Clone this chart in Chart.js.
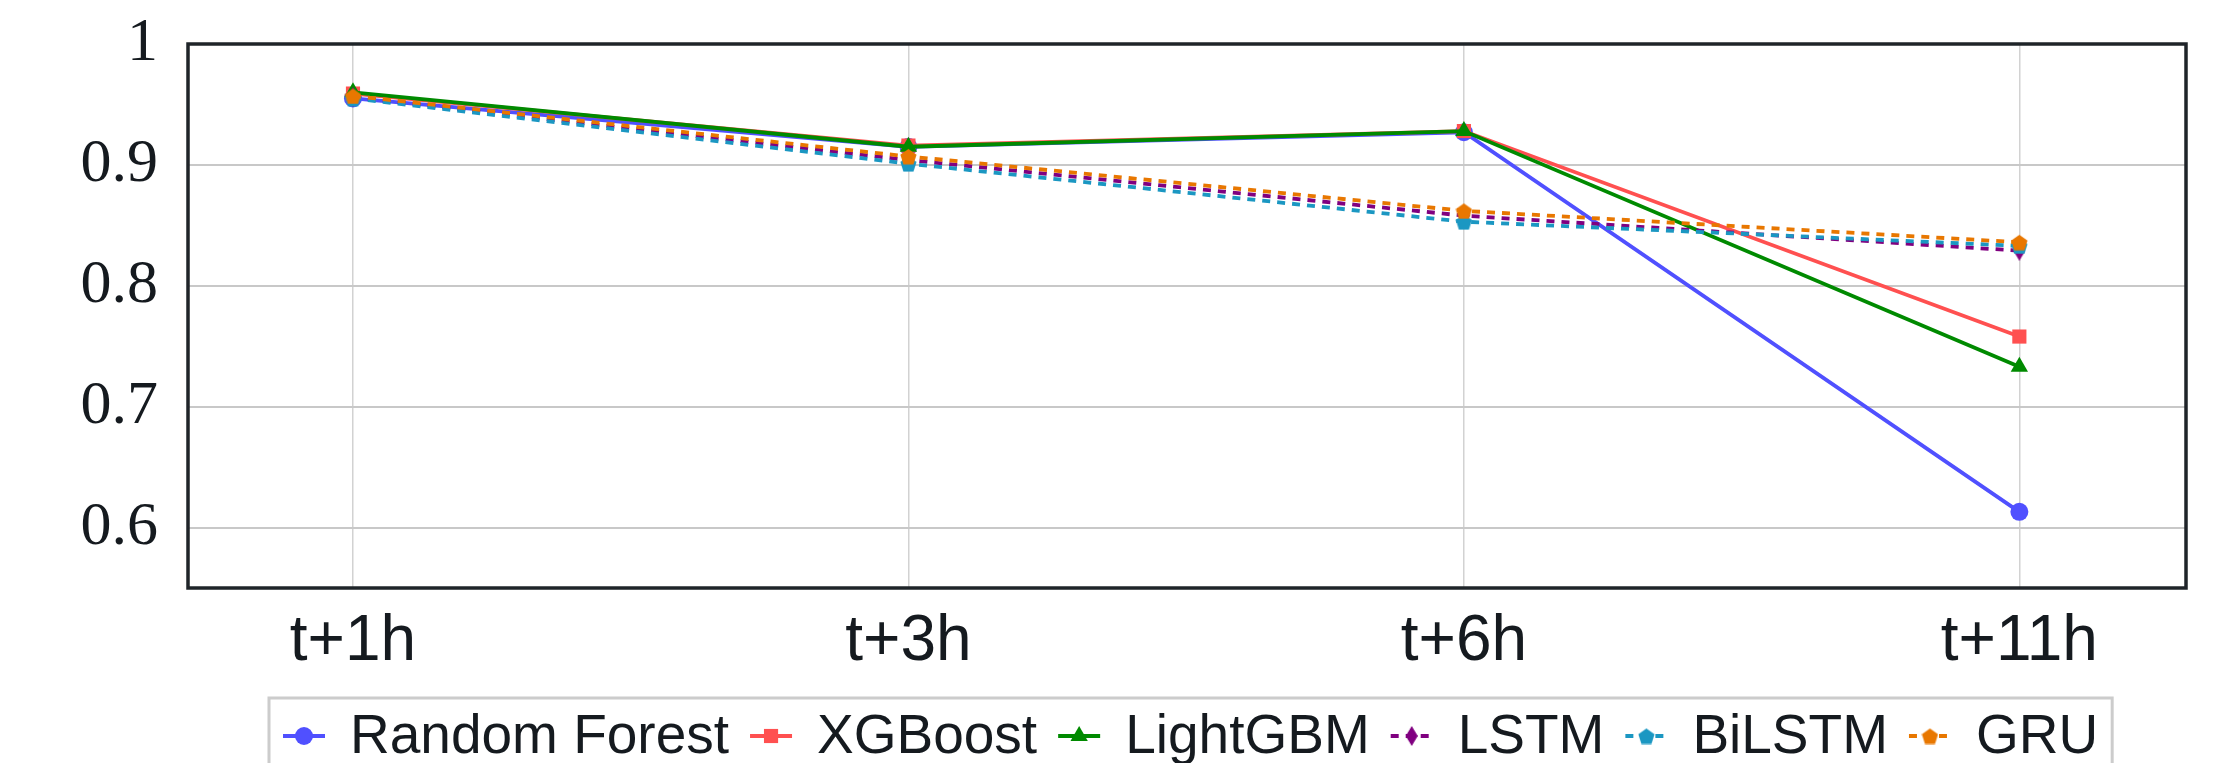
<!DOCTYPE html>
<html>
<head>
<meta charset="utf-8">
<script src="https://cdn.jsdelivr.net/npm/chart.js@4.4.1/dist/chart.umd.min.js"></script>
<style>
  html, body { margin: 0; padding: 0; background: #fff; }
  #wrap { width: 2217px; height: 763px; }
</style>
</head>
<body>
<div id="wrap"><canvas id="chart" width="2217" height="763"></canvas></div>
<script>
// Data
const horizons = ["t+1h", "t+3h", "t+6h", "t+11h"];
const yTicks = [0.6, 0.7, 0.8, 0.9, 1];
const models = ["Random Forest", "XGBoost", "LightGBM", "LSTM", "BiLSTM", "GRU"];
const randomForest = [0.955, 0.915, 0.927, 0.613];
const xgboost = [0.959, 0.916, 0.928, 0.758];
const lightgbm = [0.96, 0.915, 0.928, 0.733];
const lstm = [0.956, 0.904, 0.858, 0.829];
const bilstm = [0.955, 0.901, 0.853, 0.833];
const gru = [0.957, 0.907, 0.862, 0.836];

const TEXT = "#151a1f";

// custom markers (pentagon / narrow diamond)
function pentagon(color, size) {
  const c = document.createElement("canvas");
  c.width = size;
  c.height = size;
  const g = c.getContext("2d");
  g.fillStyle = color;
  g.beginPath();
  const r = size / 2;
  for (let k = 0; k < 5; k++) {
    const a = -Math.PI / 2 + (k * 2 * Math.PI) / 5;
    const px = r + r * Math.cos(a);
    const py = r + 1 + r * Math.sin(a);
    if (k === 0) g.moveTo(px, py);
    else g.lineTo(px, py);
  }
  g.closePath();
  g.fill();
  return c;
}

function diamond(color, w, h) {
  const c = document.createElement("canvas");
  c.width = w;
  c.height = h;
  const g = c.getContext("2d");
  g.fillStyle = color;
  g.beginPath();
  g.moveTo(w / 2, 0);
  g.lineTo(w, h / 2);
  g.lineTo(w / 2, h);
  g.lineTo(0, h / 2);
  g.closePath();
  g.fill();
  return c;
}

const styles = [
  { color: "#5050ff", point: "circle", radius: 9, dash: [] },
  { color: "#ff5050", point: "rect", radius: 10, dash: [] },
  { color: "#008a00", point: "triangle", radius: 10, dash: [] },
  { color: "#800080", point: diamond("#800080", 12, 20), radius: 8, dash: [8, 7] },
  { color: "#1b97c2", point: pentagon("#1b97c2", 17), radius: 8, dash: [8, 7] },
  { color: "#e87700", point: pentagon("#e87700", 17), radius: 8, dash: [8, 7] },
];

const seriesValues = [randomForest, xgboost, lightgbm, lstm, bilstm, gru];

const datasets = seriesValues.map((vals, i) => ({
  label: models[i],
  data: vals.map((v, j) => ({ x: j, y: v })),
  borderColor: styles[i].color,
  backgroundColor: styles[i].color,
  pointBackgroundColor: styles[i].color,
  pointBorderColor: styles[i].color,
  pointBorderWidth: 0,
  pointStyle: styles[i].point,
  pointRadius: styles[i].radius,
  borderWidth: 3.8,
  borderDash: styles[i].dash,
  tension: 0,
  fill: false,
  order: -i, // later series on top
}));

// frame around the plot area
const frame = {
  id: "frame",
  beforeDatasetsDraw(chart) {
    const { ctx, chartArea: a } = chart;
    ctx.save();
    ctx.strokeStyle = "#1f2429";
    ctx.lineWidth = 3.5;
    ctx.strokeRect(a.left, a.top, a.right - a.left, a.bottom - a.top);
    ctx.restore();
  },
};

// boxed legend under the x labels
const legendBox = {
  id: "legendBox",
  afterDraw(chart) {
    const ctx = chart.ctx;
    ctx.save();
    ctx.font = '55px "Liberation Sans"';
    const top = 698;
    const left = 269;
    const cy = 736;
    let x = left + 14;
    const items = [];
    chart.data.datasets.forEach((ds) => {
      const w = ctx.measureText(ds.label).width;
      items.push({ ds, x, w });
      x += 42 + 25 + w + 21;
    });
    const right = x - 7;
    ctx.fillStyle = "#ffffff";
    ctx.fillRect(left, top, right - left, 120);
    ctx.strokeStyle = "#cccccc";
    ctx.lineWidth = 3;
    ctx.strokeRect(left, top, right - left, 120);

    items.forEach(({ ds, x }) => {
      ctx.strokeStyle = ds.borderColor;
      ctx.lineWidth = ds.borderWidth;
      ctx.setLineDash(ds.borderDash);
      ctx.beginPath();
      ctx.moveTo(x, cy);
      ctx.lineTo(x + 42, cy);
      ctx.stroke();
      ctx.setLineDash([]);
      ctx.fillStyle = ds.pointBackgroundColor;
      Chart.helpers.drawPoint(ctx, {
        pointStyle: ds.pointStyle,
        radius: ds.pointRadius,
        rotation: 0,
        borderWidth: 0,
      }, x + 21, cy);
      ctx.fillStyle = TEXT;
      ctx.textBaseline = "middle";
      ctx.textAlign = "left";
      ctx.fillText(ds.label, x + 67, cy + 2);
    });
    ctx.restore();
  },
};

const ctx = document.getElementById("chart").getContext("2d");
new Chart(ctx, {
  type: "line",
  data: { datasets },
  plugins: [frame, legendBox],
  options: {
    responsive: false,
    animation: false,
    devicePixelRatio: 1,
    layout: { padding: { top: 44, right: 31, bottom: 0, left: 0 } },
    plugins: {
      legend: { display: false },
      tooltip: { enabled: false },
    },
    scales: {
      x: {
        type: "linear",
        min: -0.297,
        max: 3.3,
        afterBuildTicks: (scale) => {
          scale.ticks = horizons.map((_, i) => ({ value: i }));
        },
        afterFit: (scale) => {
          scale.height = 175;
          scale.paddingLeft = 0;
          scale.paddingRight = 0;
        },
        grid: { color: "#d2d2d2", lineWidth: 1.5, drawTicks: false },
        border: { display: false },
        ticks: {
          padding: 16,
          color: TEXT,
          font: { family: "Liberation Sans", size: 64 },
          maxRotation: 0,
          autoSkip: false,
          callback: (v) => horizons[v],
        },
      },
      y: {
        min: 0.55,
        max: 1,
        afterBuildTicks: (scale) => {
          scale.ticks = yTicks.map((v) => ({ value: v }));
        },
        afterFit: (scale) => {
          scale.width = 188;
          scale.paddingTop = 0;
          scale.paddingBottom = 0;
        },
        grid: { color: "#c8c8c8", lineWidth: 2, drawTicks: false },
        border: { display: false },
        ticks: {
          padding: 30,
          color: TEXT,
          font: { family: "Liberation Serif", size: 62 },
          callback: (v) => String(Math.round(v * 10) / 10),
        },
      },
    },
  },
});
</script>
</body>
</html>
